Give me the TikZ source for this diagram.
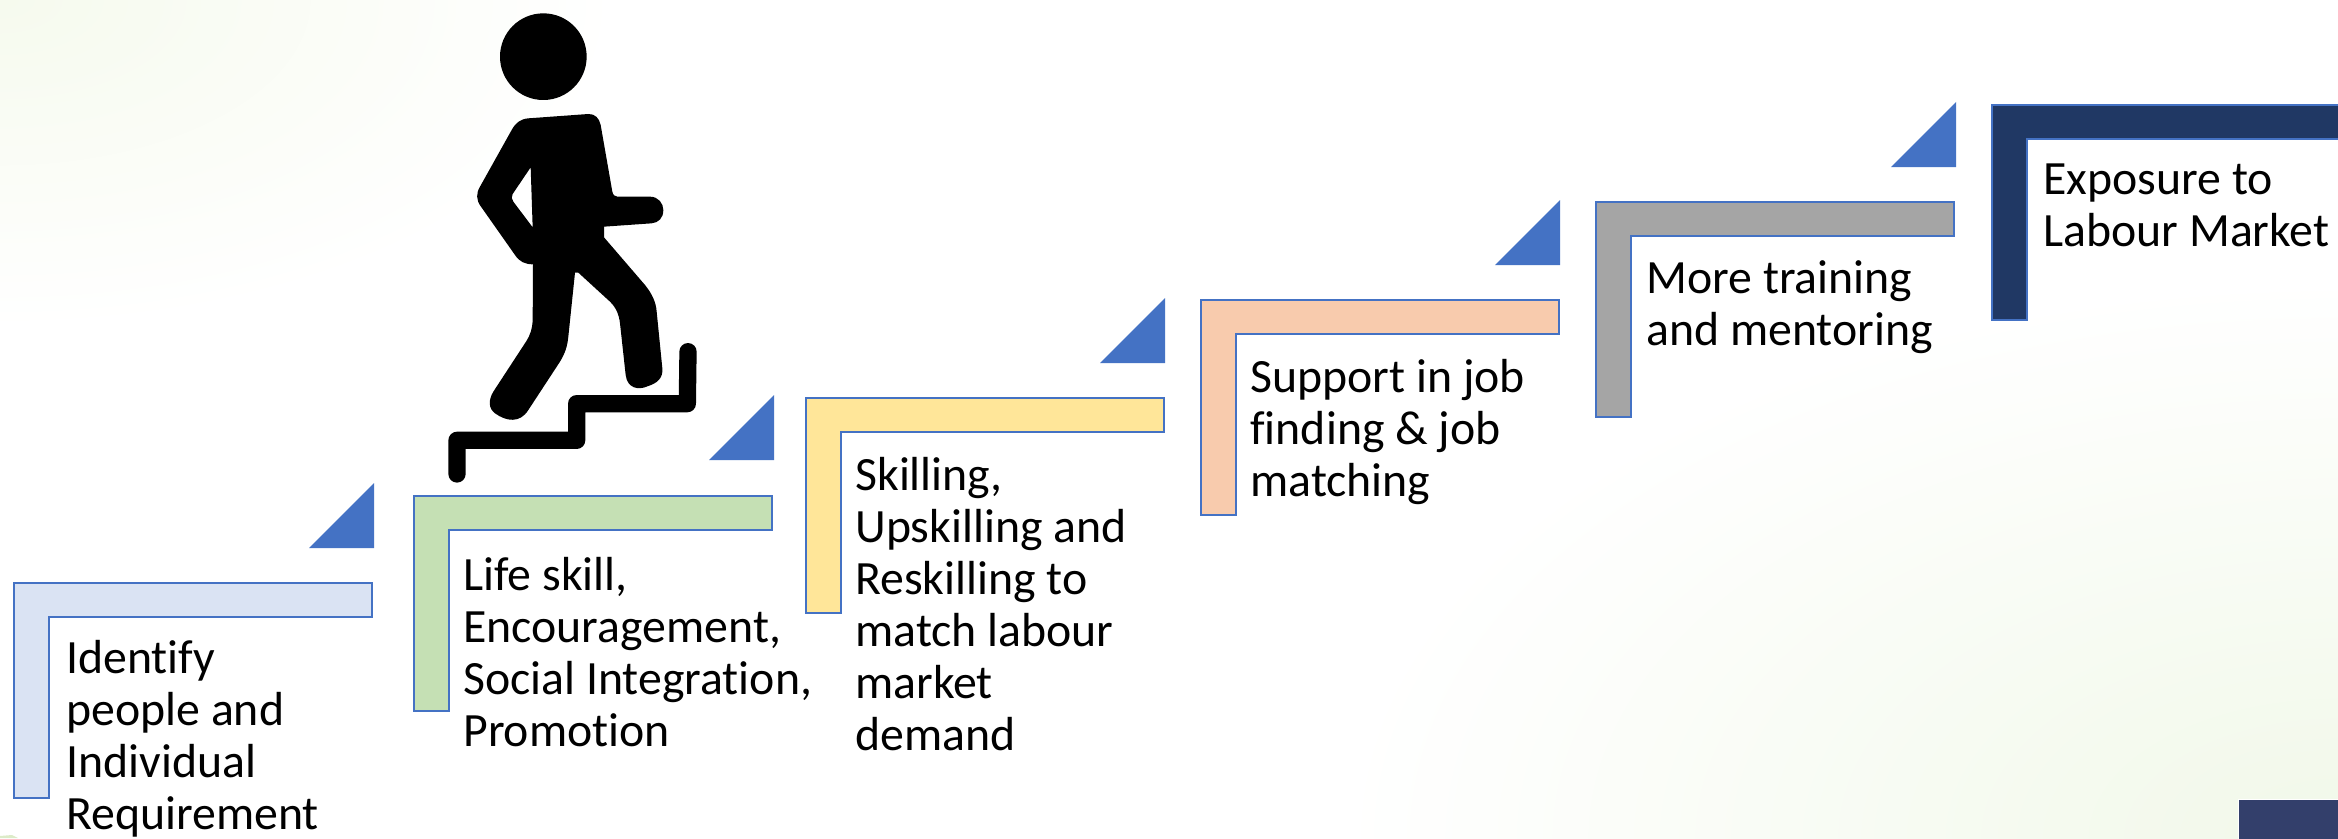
\documentclass[tikz,border=0pt]{standalone}
\usepackage{fontspec}
\setmainfont[Ligatures=NoCommon]{Carlito}
\newcommand{\s}{0.02cm}
\definecolor{edgeblue}{HTML}{4472C4}
\definecolor{stepone}{HTML}{DAE3F3}
\definecolor{steptwo}{HTML}{C5E0B4}
\definecolor{stepthree}{HTML}{FFE699}
\definecolor{stepfour}{HTML}{F8CBAD}
\definecolor{stepfive}{HTML}{A5A5A5}
\definecolor{stepsix}{HTML}{203864}
\definecolor{tagnavy}{HTML}{333F6B}
\definecolor{tintleft}{HTML}{F6FAEE}
\definecolor{tintright}{HTML}{F1F8E9}
\definecolor{tintsliver}{HTML}{DCEBC8}
\newcommand{\stair}[3]{\draw[stairbox, fill=#3] (#1,#2) -- ++(358,0) -- ++(0,34) -- ++(-323,0) -- ++(0,181) -- ++(-35,0) -- cycle;}
\newcommand{\notch}[2]{\fill[notchbox] (#1,#2) -- ++(0,65) -- ++(-65,0) -- cycle;}

\begin{document}
\begin{tikzpicture}[x=\s, y=-\s,
    stairbox/.style={draw=edgeblue, line width=2.8*\s},
    notchbox/.style={edgeblue},
    steptext/.style={anchor=north west, inner sep=0pt, align=left, font=\fontsize{27.2}{29.6}\selectfont, execute at begin node=\strut},
    walker/.style={black, even odd rule}]
    \clip (0,0) rectangle (2338,838);
    % Background
    \fill[white] (0,0) rectangle (2338,838);
    \shade[inner color=tintleft, outer color=white] (0,0) ellipse (620 and 330);
    \shade[inner color=tintright, outer color=white] (2338,838) ellipse (1000 and 560);
    \fill[tintsliver] (0,838) -- (0,836) -- (12,835) -- (18,838) -- cycle;
    \draw[white, fill=tagnavy, line width=1*\s] (2238,799) rectangle (2340,840);

    % Stairs
    \stair{14}{583}{stepone}
    \stair{414}{496}{steptwo}
    \stair{806}{398}{stepthree}
    \stair{1201}{300}{stepfour}
    \stair{1596}{202}{stepfive}
    \stair{1992}{105}{stepsix}

    % Notches
    \notch{374}{483}
    \notch{774}{395}
    \notch{1165}{298}
    \notch{1560}{200}
    \notch{1956}{102}

    % Texts
    \node[steptext] (text-1) at (66,640) {Identify\\people and\\Individual\\Requirement};
    \node[steptext] (text-2) at (463,557) {Life skill,\\Encouragement,\\Social Integration,\\Promotion};
    \node[steptext] (text-3) at (855,457) {Skilling,\\Upskilling and\\Reskilling to\\match labour\\market\\demand};
    \node[steptext] (text-4) at (1250,359) {Support in job\\finding \& job\\matching};
    \node[steptext] (text-5) at (1646,260) {More training\\and mentoring};
    \node[steptext] (text-6) at (2043,163) {Exposure to\\Labour Market};

    % Walker
    \begin{scope}[shift={(400,0)}, scale=1/3]
        \fill[black] (430,170) circle (130);
        \fill[walker] (385,355) -- (565,342) .. controls (585,341) and (598,355) .. (602,375)
            -- (637,575) .. controls (639,585) and (645,590) .. (652,590)
            -- (750,590) .. controls (775,590) and (790,610) .. (790,630)
            .. controls (790,655) and (775,668) .. (755,670)
            -- (612,680) -- (612,712) -- (735,855) .. controls (755,880) and (768,905) .. (770,935)
            -- (787,1105) .. controls (790,1135) and (770,1150) .. (745,1158)
            .. controls (715,1172) and (682,1165) .. (677,1125)
            -- (660,970) .. controls (657,945) and (650,925) .. (630,905)
            -- (535,818) -- (525,818) -- (505,1010) .. controls (502,1040) and (495,1060) .. (480,1085)
            -- (385,1230) .. controls (360,1270) and (320,1265) .. (285,1240)
            .. controls (265,1225) and (265,1200) .. (280,1175)
            -- (378,1025) .. controls (392,1003) and (397,985) .. (398,960)
            -- (399,793) .. controls (375,793) and (358,785) .. (345,765)
            -- (243,620) .. controls (228,600) and (228,580) .. (240,560)
            -- (335,390) .. controls (347,368) and (362,357) .. (385,355) -- cycle
            (392,502) -- (338,582) .. controls (333,590) and (335,597) .. (340,605) -- (398,682) -- cycle;
        \draw[black, line width=17.3*\s, line cap=round, line join=round]
            (171,1422) -- (171,1321) -- (530,1321) -- (530,1211) -- (862,1211) -- (864,1055);
    \end{scope}
\end{tikzpicture}
\end{document}
